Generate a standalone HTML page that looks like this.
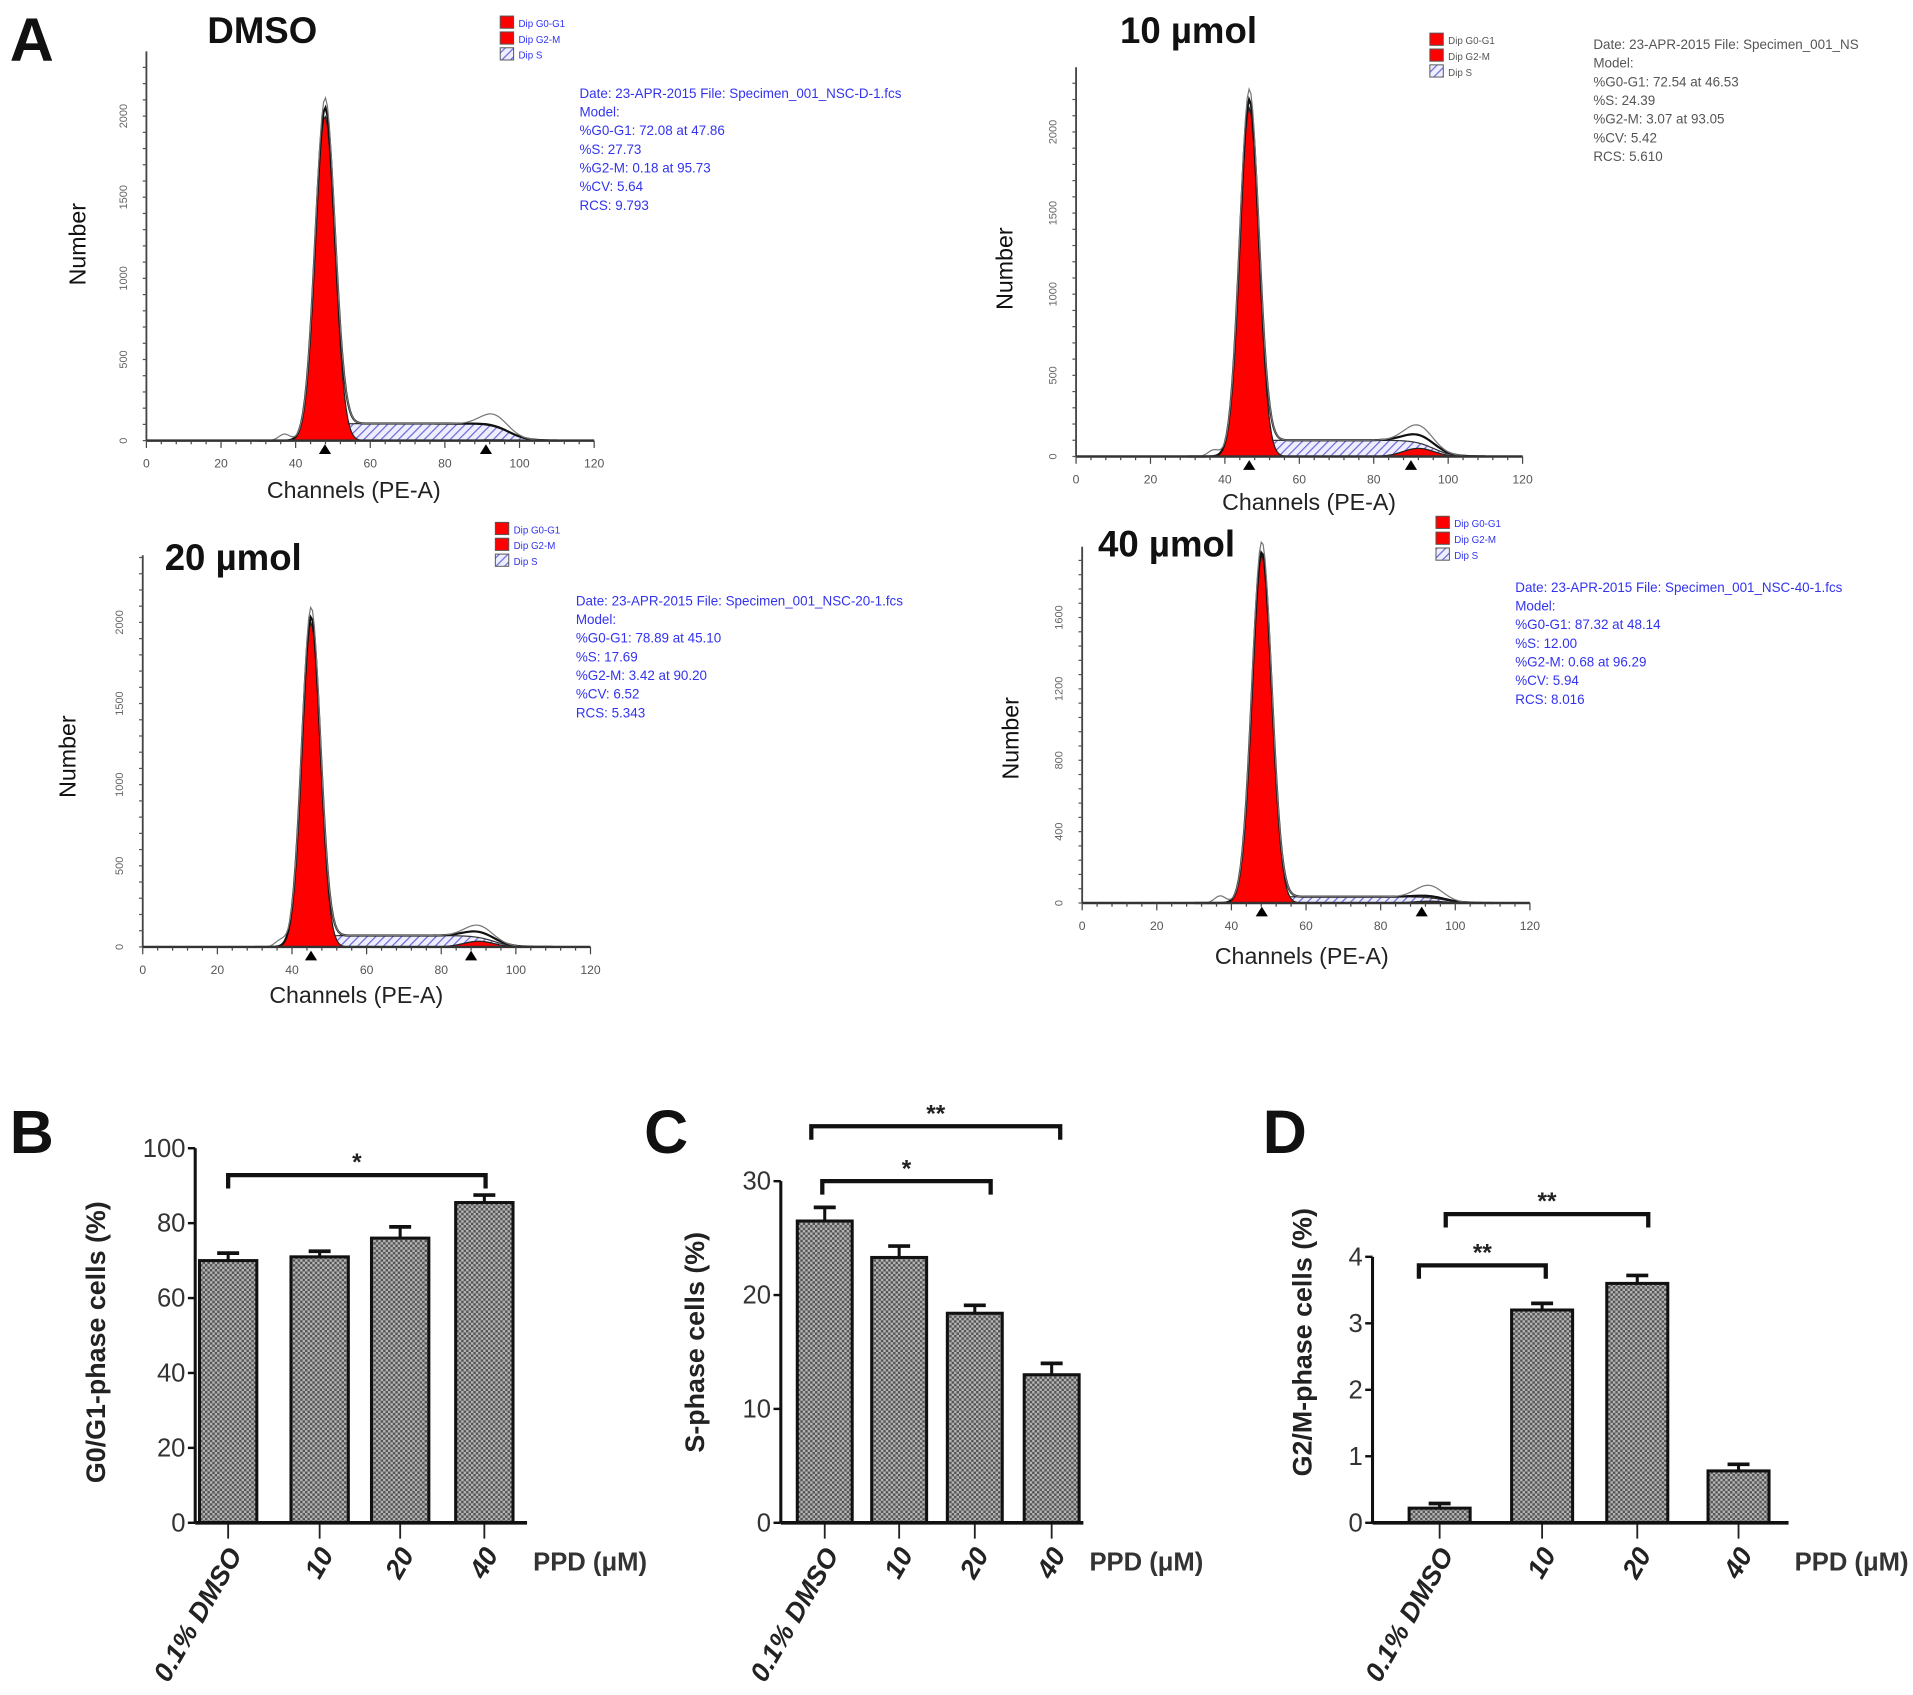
<!DOCTYPE html>
<html><head><meta charset="utf-8"><style>
html,body{margin:0;padding:0;background:#fff;}
svg{display:block;}
text{font-family:"Liberation Sans",sans-serif;}
</style></head><body>
<svg id="fig" width="1913" height="1695" viewBox="0 0 1568 1389" xmlns="http://www.w3.org/2000/svg">
<defs>
<pattern id="hatch" patternUnits="userSpaceOnUse" width="5" height="5" patternTransform="rotate(45)">
<rect width="5" height="5" fill="#eef"/><line x1="0" y1="0" x2="0" y2="5" stroke="#6a6ad8" stroke-width="2"/></pattern>
<pattern id="bartex" patternUnits="userSpaceOnUse" width="4" height="4">
<rect width="4" height="4" fill="#b4b4b4"/><rect x="0" y="0" width="2" height="2" fill="#555"/><rect x="2" y="2" width="2" height="2" fill="#555"/></pattern>
</defs>
<g id="root"></g>
</svg>
<script>
// ---------- histogram panel data ----------
const histTitles = ["DMSO","10 µmol","20 µmol","40 µmol"];
const g1Channel = [47.86,46.53,45.10,48.14];
const g1Height = [2000,2150,2000,1950];
const sLevel = [105,100,70,35];
const g2Channel = [93,92,90,93];
const g2Height = [5,50,35,10];
const rawBump = [70,60,40,60];
const yTickVals = [[0,500,1000,1500,2000],[0,500,1000,1500,2000],[0,500,1000,1500,2000],[0,400,800,1200,1600]];
const infoLines = [
 ["Date: 23-APR-2015 File: Specimen_001_NSC-D-1.fcs","Model:"," %G0-G1: 72.08 at 47.86"," %S:     27.73"," %G2-M:  0.18 at 95.73"," %CV:    5.64","RCS: 9.793"],
 ["Date: 23-APR-2015 File: Specimen_001_NS","Model:"," %G0-G1: 72.54 at 46.53"," %S:     24.39"," %G2-M:  3.07 at 93.05"," %CV:    5.42","RCS: 5.610"],
 ["Date: 23-APR-2015 File: Specimen_001_NSC-20-1.fcs","Model:"," %G0-G1: 78.89 at 45.10"," %S:     17.69"," %G2-M:  3.42 at 90.20"," %CV:    6.52","RCS: 5.343"],
 ["Date: 23-APR-2015 File: Specimen_001_NSC-40-1.fcs","Model:"," %G0-G1: 87.32 at 48.14"," %S:     12.00"," %G2-M:  0.68 at 96.29"," %CV:    5.94","RCS: 8.016"]];
// ---------- bar chart data ----------
const barCats = ["0.1% DMSO","10","20","40"];
const g1Vals = [70,71,76,85.5], g1Err = [2,1.5,3,2];
const sVals = [26.5,23.3,18.4,13], sErr = [1.2,1,0.7,1];
const g2Vals = [0.22,3.2,3.6,0.78], g2Err = [0.07,0.1,0.12,0.1];
const g1Ticks = [0,20,40,60,80,100], sTicks=[0,10,20,30], g2Ticks=[0,1,2,3,4];

const NS="http://www.w3.org/2000/svg";
const root=document.getElementById('root');
function el(tag,attrs,parent,txt){const e=document.createElementNS(NS,tag);for(const k in attrs)e.setAttribute(k,attrs[k]);if(txt!==undefined)e.textContent=txt;(parent||root).appendChild(e);return e;}

const geo=[
 {x0:120,zy:361,yTop:42,scale:266/2000,x1:487,title:[170,35],leg:[410,13],info:[475,80,'#3333ee'],num:[70,200],ch:[290,408]},
 {x0:882,zy:374,yTop:55,scale:266/2000,x1:1248,title:[918,35],leg:[1172,27],info:[1306,40,'#555'],num:[830,220],ch:[1073,418]},
 {x0:117,zy:776,yTop:455,scale:266/2000,x1:484,title:[135,467],leg:[406,428],info:[472,496,'#3333ee'],num:[62,620],ch:[292,822]},
 {x0:887,zy:740,yTop:448,scale:234/1600,x1:1254,title:[900,456],leg:[1177,423],info:[1242,485,'#3333ee'],num:[835,605],ch:[1067,790]}];

function gauss(x,m,s){return Math.exp(-0.5*((x-m)/s)**2);}
function sig(x){return 1/(1+Math.exp(-x));}

geo.forEach((g,i)=>{
  const p=el('g',{});
  
  
  const X=c=>g.x0+c*(g.x1-g.x0)/120, Y=v=>g.zy-v*g.scale;
  const sd=g1Channel[i]*0.055, sd2=g2Channel[i]*0.045;
  const chans=[];for(let c=30;c<=110;c+=0.5)chans.push(c);
  const sPart=c=>sLevel[i]*sig((c-g1Channel[i])/1.5)*sig((g2Channel[i]+4-c)/2.5);
  const g1=c=>g1Height[i]*gauss(c,g1Channel[i],sd);
  const g2=c=>g2Height[i]*gauss(c,g2Channel[i],sd2);
  let d='M'+X(30)+','+Y(0);chans.forEach(c=>d+='L'+X(c)+','+Y(sPart(c)));d+='L'+X(110)+','+Y(0)+'Z';
  const sp=el('path',{d:d,fill:'url(#hatch)',stroke:'#333','stroke-width':1},p);
  
  d='M'+X(30)+','+Y(0);chans.forEach(c=>d+='L'+X(c)+','+Y(g1(c)));d+='L'+X(110)+','+Y(0)+'Z';
  const r1=el('path',{d:d,fill:'#ff0000',stroke:'#222','stroke-width':1},p);
  
  d='M'+X(30)+','+Y(0);chans.forEach(c=>d+='L'+X(c)+','+Y(g2(c)));d+='L'+X(110)+','+Y(0)+'Z';
  const r2=el('path',{d:d,fill:'#ff0000',stroke:'#222','stroke-width':1},p);
  
  d='';chans.forEach((c,k)=>d+=(k?'L':'M')+X(c)+','+Y(g1(c)+sPart(c)+g2(c)));
  const m=el('path',{d:d,fill:'none',stroke:'#111','stroke-width':1.8},p);
  
  d='';chans.forEach((c,k)=>d+=(k?'L':'M')+X(c)+','+Y(g1(c)*1.03+sPart(c)+g2(c)+rawBump[i]*gauss(c,g2Channel[i],3.5)+40*gauss(c,37,1.5)));
  const rw=el('path',{d:d,fill:'none',stroke:'#777','stroke-width':1},p);
  
  el('line',{x1:g.x0,y1:g.yTop,x2:g.x0,y2:g.zy,stroke:'#444','stroke-width':1.5},p);
  el('line',{x1:g.x0,y1:g.zy,x2:g.x1,y2:g.zy,stroke:'#333','stroke-width':2},p);
  for(let c=0;c<=120;c+=4){el('line',{x1:X(c),y1:g.zy,x2:X(c),y2:g.zy+(c%20?3:6),stroke:'#444','stroke-width':1},p);}
  for(let c=0;c<=120;c+=20){el('text',{x:X(c),y:g.zy+22,'font-size':10,'text-anchor':'middle',fill:'#555'},p,c);}
  const tmax=yTickVals[i][yTickVals[i].length-1];
  for(let v=0;Y(v)>=g.yTop;v+=tmax/20){el('line',{x1:g.x0-3,y1:Y(v),x2:g.x0,y2:Y(v),stroke:'#555','stroke-width':1},p);}
  yTickVals[i].forEach(v=>{el('text',{x:g.x0-16,y:Y(v),'font-size':9,'text-anchor':'middle',fill:'#666',transform:`rotate(-90 ${g.x0-16} ${Y(v)})`},p,v);});
  [g1Channel[i],g2Channel[i]-2].forEach(c=>el('path',{d:`M${X(c)-5},${g.zy+11}L${X(c)+5},${g.zy+11}L${X(c)},${g.zy+3}Z`,fill:'#000'},p));
  const t=el('text',{x:g.title[0],y:g.title[1],'font-size':30,'font-weight':'bold',fill:'#111'},p,histTitles[i]);
  
  const nl=el('text',{x:g.num[0],y:g.num[1],'font-size':19,'text-anchor':'middle',fill:'#111',transform:`rotate(-90 ${g.num[0]} ${g.num[1]})`},p,'Number');
  
  const cl=el('text',{x:g.ch[0],y:g.ch[1],'font-size':19,'text-anchor':'middle',fill:'#222'},p,'Channels (PE-A)');
  
  const lg=el('g',{},p);
  [['Dip G0-G1','#ff0000'],['Dip G2-M','#ff0000'],['Dip S','url(#hatch)']].forEach((e,k)=>{
    el('rect',{x:g.leg[0],y:g.leg[1]+k*13,width:11,height:10,fill:e[1],stroke:'#555','stroke-width':0.8},lg);
    el('text',{x:g.leg[0]+15,y:g.leg[1]+k*13+9,'font-size':8,fill:i==1?'#555':'#3333ee'},lg,e[0]);});
  const inf=el('g',{},p);
  infoLines[i].forEach((s,k)=>el('text',{x:g.info[0],y:g.info[1]+k*15.3,'font-size':11,fill:g.info[2],'xml:space':'preserve'},inf,s));
});
const la=el('text',{x:8,y:50,'font-size':50,'font-weight':'bold',fill:'#111'},root,'A');


function barChart(o){
  const p=el('g',{});
  
  
  const Y=v=>o.zy-v*(o.zy-o.topY)/o.max;
  const lab=el('text',{x:o.lx,y:945,'font-size':50,'font-weight':'bold',fill:'#111'},p,o.letter);
  
  o.vals.forEach((v,k)=>{
    const cx=o.xs[k];
    el('line',{x1:cx,y1:Y(v),x2:cx,y2:Y(v+o.err[k]),stroke:'#111','stroke-width':2.5},p);
    el('line',{x1:cx-9,y1:Y(v+o.err[k]),x2:cx+9,y2:Y(v+o.err[k]),stroke:'#111','stroke-width':3},p);
    const b=el('rect',{x:cx-o.bw/2,y:Y(v),width:o.bw,height:o.zy-Y(v),fill:'url(#bartex)',stroke:'#111','stroke-width':2.5},p);
    
    
    el('line',{x1:cx,y1:o.zy,x2:cx,y2:o.zy+13,stroke:'#222','stroke-width':1.5},p);
    const tx=cx+12,ty=o.zy+26;
    el('text',{x:tx,y:ty,'font-size':22,'font-weight':'bold','font-style':'italic','text-anchor':'end',fill:'#222',transform:`rotate(-60 ${tx} ${ty})`},p,barCats[k]);
  });
  el('line',{x1:o.x0,y1:Y(o.max),x2:o.x0,y2:o.zy,stroke:'#111','stroke-width':2.5},p);
  el('line',{x1:o.x0,y1:o.zy,x2:o.xEnd,y2:o.zy,stroke:'#111','stroke-width':3},p);
  o.ticks.forEach(v=>{el('line',{x1:o.x0-6,y1:Y(v),x2:o.x0,y2:Y(v),stroke:'#111','stroke-width':2},p);
    el('text',{x:o.x0-8,y:Y(v)+7,'font-size':21,'text-anchor':'end',fill:'#333'},p,v);});
  const yl=el('text',{x:o.ylx,y:1100,'font-size':22,'font-weight':'bold','text-anchor':'middle',fill:'#222',transform:`rotate(-90 ${o.ylx} 1100)`},p,o.ylabel);
  
  const pl=el('text',{x:o.xEnd+5,y:1287,'font-size':21,'font-weight':'bold',fill:'#333'},p,'PPD (μM)');
  
  o.brackets.forEach(br=>{
    const bg=el('g',{},p);
    el('path',{d:`M${br[0]},${br[2]+11}L${br[0]},${br[2]}L${br[1]},${br[2]}L${br[1]},${br[2]+11}`,fill:'none',stroke:'#111','stroke-width':3.5},bg);
    el('text',{x:(br[0]+br[1])/2,y:br[2]-4,'font-size':20,'font-weight':'bold','text-anchor':'middle',fill:'#222'},bg,br[3]);
  });
}
barChart({name:'g0-g1-bar-chart',letter:'B',lx:8,x0:160,xEnd:432,zy:1248,topY:941,max:100,xs:[187,262,328,397],bw:47,vals:g1Vals,err:g1Err,ticks:g1Ticks,ylx:86,ylabel:'G0/G1-phase cells  (%)',brackets:[[187,398,963,'*']]});
barChart({name:'s-phase-bar-chart',letter:'C',lx:528,x0:640,xEnd:888,zy:1248,topY:968,max:30,xs:[676,737,799,862],bw:45,vals:sVals,err:sErr,ticks:sTicks,ylx:577,ylabel:'S-phase cells  (%)',brackets:[[665,869,923,'**'],[674,812,968,'*']]});
barChart({name:'g2-m-bar-chart',letter:'D',lx:1035,x0:1125,xEnd:1466,zy:1248,topY:1030,max:4,xs:[1180,1264,1342,1425],bw:50,vals:g2Vals,err:g2Err,ticks:g2Ticks,ylx:1075,ylabel:'G2/M-phase cells  (%)',brackets:[[1163,1267,1037,'**'],[1185,1351,995,'**']]});
</script>
</body></html>
